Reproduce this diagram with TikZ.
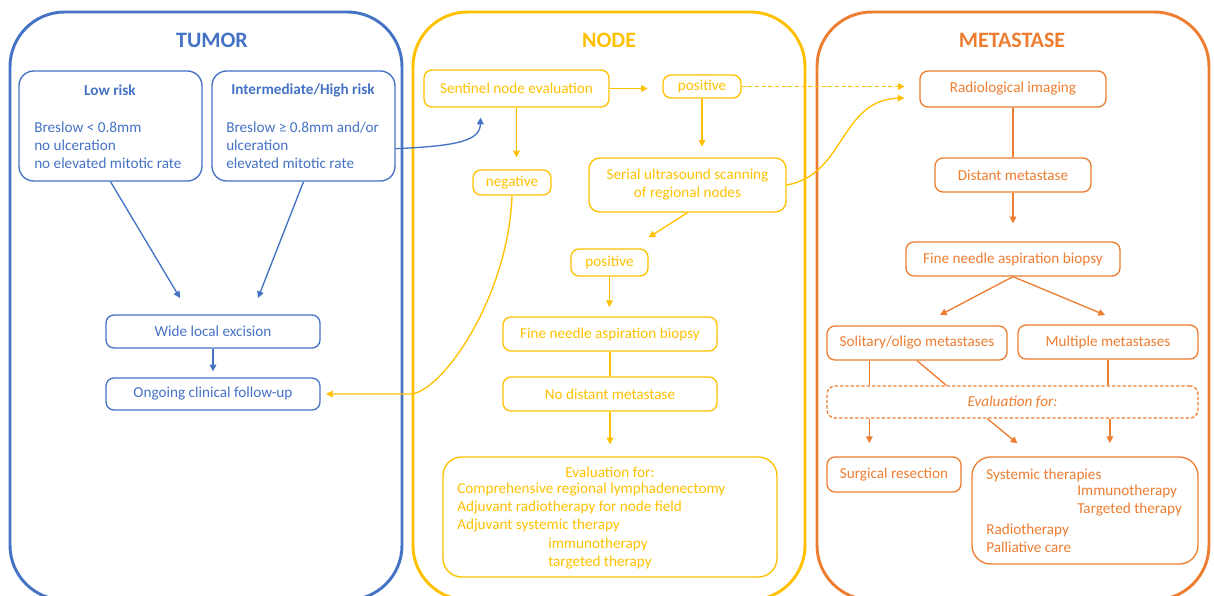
\documentclass[tikz,border=0pt]{standalone}
\usepackage{fontspec}
\setmainfont{Carlito}
\usetikzlibrary{arrows.meta,calc}
\definecolor{cblue}{HTML}{4472C4}
\definecolor{cyel}{HTML}{FFC000}
\definecolor{corg}{HTML}{ED7D31}

\begin{document}
\begin{tikzpicture}[x=0.75pt,y=-0.75pt,
  panel/.style={line width=2.2pt, rounded corners=41pt},
  box/.style={draw, line width=1pt, rounded corners=6pt, inner sep=0pt, align=center,
    font=\fontsize{11.4}{13.5}\selectfont},
  % a box given by its left, top, right and bottom edges
  span/.style args={#1/#2/#3/#4}{minimum width={(#3-#1)*0.75pt}, minimum height={(#4-#2)*0.75pt},
    at={(0.5*#1+0.5*#3, 0.5*#2+0.5*#4)}},
  txt/.style={inner sep=0pt, align=left, font=\fontsize{11.4}{13.5}\selectfont},
  btxt/.style={inner sep=0pt, font=\fontsize{11.4}{13.5}\selectfont\bfseries},
  title/.style={inner sep=0pt, font=\fontsize{16.5}{20}\selectfont\bfseries},
  arr/.style={line width=1pt, -{Triangle[length=5pt,width=5pt]}},
  ln/.style={line width=1pt},
]
\useasboundingbox (0,0) rectangle (1214,596);

% the three column panels, open at the bottom
\begin{scope}
  \clip (0,0) rectangle (1214,596);
  \draw[panel, cblue] (10,12) rectangle (402,600);
  \draw[panel, cyel] (413,12) rectangle (805,600);
  \draw[panel, corg] (817,12) rectangle (1209,600);
\end{scope}

\node[title, cblue] (ttumor) at (212,40) {TUMOR};
\node[title, cyel] (tnode) at (609,40) {NODE};
\node[title, corg] (tmeta) at (1012,40) {METASTASE};

% ---------------- tumor column ----------------
\begin{scope}[cblue]
  \node[box, rounded corners=11pt, span=19/71/202/181] (low) {};
  \node[btxt] (lowt) at (110,90) {Low risk};
  \node[txt, anchor=west] (lowd) at (34,145) {Breslow < 0.8mm\\no ulceration\\no elevated mitotic rate};

  \node[box, rounded corners=11pt, span=212/71/395/181] (int) {};
  \node[btxt] (intt) at (303,90) {Intermediate/High risk};
  \node[txt, anchor=west] (intd) at (226,145) {Breslow ≥ 0.8mm and/or\\ulceration\\elevated mitotic rate};

  \node[box, span=106/315/320/348] (wle) {Wide local excision};
  \node[box, span=106/378/320/410] (ong) {Ongoing clinical follow-up};

  \coordinate (lowend) at (180,298);
  \coordinate (intend) at (258,298);
  \draw[arr] (low.south) -- (lowend);
  \draw[arr] (int.south) -- (intend);
  \draw[arr, shorten >=4.5pt] (wle) -- (ong);
\end{scope}

% ---------------- node column ----------------
\begin{scope}[cyel]
  \node[box, span=424/70/609/107] (sne) {Sentinel node evaluation};
  \node[box, span=663/75/741/98] (pos1) {positive};
  \node[box, span=473/170/551/195] (neg) {negative};
  \node[box, rounded corners=8pt, span=589/158/786/212] (sus) {Serial ultrasound scanning\\of regional nodes};
  \node[box, span=571/249/648/276] (pos2) {positive};
  \node[box, span=503/317/717/351] (nfna) {Fine needle aspiration biopsy};
  \node[box, span=503/377/717/411] (ndm) {No distant metastase};
  \node[box, rounded corners=14pt, span=443/457/777/577] (neval) {};
  \node[txt] (nevt) at (610,472) {Evaluation for:};
  \node[txt, anchor=west] (nevl) at (457,508) {Comprehensive regional lymphadenectomy\\Adjuvant radiotherapy for node field\\Adjuvant systemic therapy};
  \node[txt, anchor=west] (nevs) at (548,554) {immunotherapy\\targeted therapy};

  \draw[arr, shorten >=11pt] (sne.east) -- (sne.east -| pos1.west);
  \draw[arr, shorten >=9pt] (sne.south) -- (sne.south |- neg.north);
  \draw[arr, shorten >=8pt] (pos1.south) -- (pos1.south |- sus.north);
  \coordinate (susend) at ($(pos2.north east)+(0,-11)$);
  \draw[arr] (sus.south) -- (susend);
  \draw[arr, shorten >=7pt] (pos2.south) -- (pos2.south |- nfna.north);
  \draw[ln] (nfna.south) -- (nfna.south |- ndm.north);
  \draw[arr, shorten >=9pt] (ndm.south) -- (ndm.south |- neval.north);
  \draw[arr, shorten >=4pt] (neg.south) .. controls (508,300) and (440,394) .. (410,394) -- (ong.east);
\end{scope}

% ---------------- metastase column ----------------
\begin{scope}[corg]
  \node[box, span=920/71/1106/107] (rad) {Radiological imaging};
  \node[box, span=935/158/1091/192] (dm) {Distant metastase};
  \node[box, span=906/242/1120/276] (mfna) {Fine needle aspiration biopsy};
  \node[box, span=827/326/1007/360] (sol) {Solitary/oligo metastases};
  \node[box, span=1018/325/1198/359] (mul) {Multiple metastases};
  \node[box, dashed, dash pattern=on 2.5pt off 1.5pt, span=827/386/1198/418] (meval) {\itshape Evaluation for:};
  \node[box, span=827/457/961/492] (surg) {Surgical resection};
  \node[box, rounded corners=14pt, span=972/457/1198/564] (sys) {};
  \node[txt, anchor=west] (syst) at (986,475) {Systemic therapies};
  \node[txt, anchor=west] (syss) at (1077,501) {Immunotherapy\\Targeted therapy};
  \node[txt, anchor=west] (syso) at (986,538) {Radiotherapy\\Palliative care};

  \draw[ln] (rad.south) -- (rad.south |- dm.north);
  \draw[arr, shorten >=13.5pt] (dm.south) -- (dm.south |- mfna.north);
  \coordinate (solend) at (940,315);
  \coordinate (mulend) at (1105,315);
  \draw[arr] (mfna.south) -- (solend);
  \draw[arr] (mfna.south) -- (mulend);

  \draw[ln] ([xshift=32.25pt]sol.south west) -- ([xshift=32.25pt]sol.south west |- meval.north);
  \draw[ln] (sol.south) -- ($(meval.north west)+(120,0)$);
  \draw[ln] (mul.south) -- (mul.south |- meval.north);

  \draw[arr, shorten >=10pt] ([xshift=32.25pt]meval.south west) -- ([xshift=32.25pt]meval.south west |- surg.north);
  \coordinate (sysend) at ($(sys.north west)+(46,-13)$);
  \draw[arr] ($(meval.south west)+(161,0)$) -- (sysend);
  \draw[arr, shorten >=10pt] ([xshift=73pt]meval.south) -- ([xshift=73pt]meval.south |- sys.north);
\end{scope}

% connectors running between the columns
\draw[arr, cblue] ($(int.south east)+(0,-33)$) .. controls (460,146) and (480,140) .. ($(sne.south)+(-36,10)$);
\draw[arr, cyel, dashed, dash pattern=on 3pt off 2pt, shorten >=11pt] (pos1.east) -- (pos1.east -| rad.west);
\draw[arr, cyel] (sus.east) .. controls (845,175) and (840,100) .. ($(rad.west)+(-15,9)$);
\end{tikzpicture}
\end{document}
